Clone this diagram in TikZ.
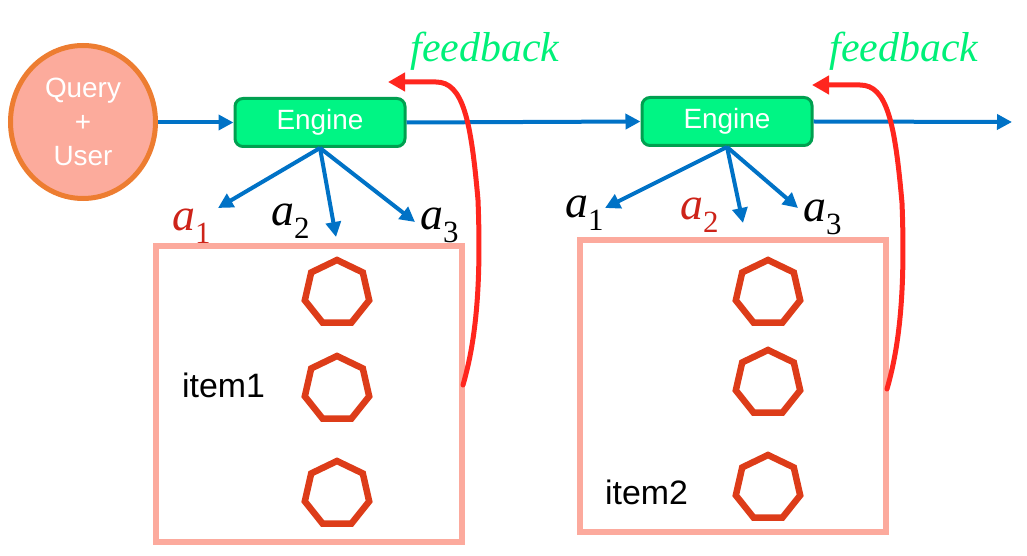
\documentclass[tikz,border=0pt]{standalone}
\usepackage{fontspec}
\setmainfont{Liberation Sans}
\newfontfamily\fbfont{Liberation Serif}
\usetikzlibrary{arrows.meta,shapes.geometric}
\definecolor{enggreen}{RGB}{0,245,132}
\definecolor{engdark}{RGB}{0,160,80}
\definecolor{flowblue}{RGB}{0,114,198}
\definecolor{fbred}{RGB}{255,38,30}
\definecolor{fbgreen}{RGB}{0,240,120}
\definecolor{boxpink}{RGB}{252,170,157}
\definecolor{heptred}{RGB}{221,60,25}
\definecolor{qfill}{RGB}{252,171,156}
\definecolor{qborder}{RGB}{237,125,49}
\definecolor{actred}{RGB}{205,35,25}
\newcommand{\actlab}[1]{{\fbfont\itshape a}\raisebox{-0.27em}{\fontsize{31}{31}\selectfont\fbfont #1}}
\begin{document}
\begin{tikzpicture}[x=1bp,y=-1bp,
  engine/.style={draw=engdark, line width=3bp, fill=enggreen, rounded corners=8bp,
    minimum width=170bp, minimum height=48bp, inner sep=0pt, text=white,
    font=\fontsize{28}{28}\selectfont},
  flow/.style={draw=flowblue, line width=4bp, -{Triangle[length=15bp,width=15bp]}},
  fbarrow/.style={draw=fbred, line width=5bp, line cap=round, -{Triangle[length=17bp,width=18bp]}},
  itembox/.style={draw=boxpink, line width=6bp, minimum width=306bp, inner sep=0pt},
  hept/.style={regular polygon, regular polygon sides=7, draw=heptred, line width=6.5bp,
    minimum size=66bp, inner sep=0pt},
  act/.style={font=\fontsize{46}{46}\selectfont, anchor=base west, inner sep=0pt},
  fbtext/.style={text=fbgreen, font=\fontsize{42}{42}\selectfont\fbfont\itshape, anchor=base, inner sep=0pt},
  itemtext/.style={font=\fontsize{34}{34}\selectfont, anchor=west, inner sep=0pt}
]
\useasboundingbox (0,0) rectangle (1027,556);

% query node
\node[ellipse, draw=qborder, line width=5bp, fill=qfill, minimum width=145bp, minimum height=153bp,
  inner sep=0pt, text=white, align=center, font=\fontsize{28}{34}\selectfont] (qu) at (83,122) {Query\\+\\User};

% engines
\node[engine] (e1) at (320,122.5) {Engine};
\node[engine] (e2) at (727,121.5) {Engine};
\coordinate (end) at (1012,122);

\draw[flow] (qu.east |- e1.west) -- (e1.west);
\draw[flow] (e1.east) -- (e2.west);
\draw[flow] (e2.east) -- (end);

% boxes
\node[itembox, minimum height=296bp] (box1) at (309,394) {};
\node[itembox, minimum height=292bp] (box2) at (733,386) {};

% heptagons
\node[hept] (h11) at (337,293) {};
\node[hept] (h12) at (337,389) {};
\node[hept] (h13) at (337,494) {};
\node[hept] (h21) at (768,293) {};
\node[hept] (h22) at (768,383) {};
\node[hept] (h23) at (768,488) {};

\node[itemtext] (it1) at (182,385) {item1};
\node[itemtext] (it2) at (605,492) {item2};

% action arrows engine 1
\coordinate (t11) at (218,208);
\coordinate (t12) at (336,237);
\coordinate (t13) at (415,222);
\draw[flow] (e1.south) -- (t11);
\draw[flow] (e1.south) -- (t12);
\draw[flow] (e1.south) -- (t13);
\node[act, text=actred] (l11) at (172,231) {\actlab{1}};
\node[act] (l12) at (271,226) {\actlab{2}};
\node[act] (l13) at (420,230) {\actlab{3}};

% action arrows engine 2
\coordinate (t21) at (605,208);
\coordinate (t22) at (743,223);
\coordinate (t23) at (798,208);
\draw[flow] (e2.south) -- (t21);
\draw[flow] (e2.south) -- (t22);
\draw[flow] (e2.south) -- (t23);
\node[act] (l21) at (565,218) {\actlab{1}};
\node[act, text=actred] (l22) at (680,220) {\actlab{2}};
\node[act] (l23) at (803,222) {\actlab{3}};

% feedback
\coordinate (fb1s) at (463,385);
\coordinate (fb1e) at (388,82);
\coordinate (fb2s) at (887,389);
\coordinate (fb2e) at (812,85);
\draw[fbarrow] (fb1s) .. controls (473,350) and (482,300) .. (478,200)
  .. controls (471,120) and (463,82) .. (436,82) -- (fb1e);
\draw[fbarrow] (fb2s) .. controls (897,354) and (906,303) .. (902,203)
  .. controls (895,123) and (887,85) .. (860,85) -- (fb2e);

\node[fbtext] (fbt1) at (485,62) {feedback};
\node[fbtext] (fbt2) at (904,62) {feedback};
\end{tikzpicture}
\end{document}
